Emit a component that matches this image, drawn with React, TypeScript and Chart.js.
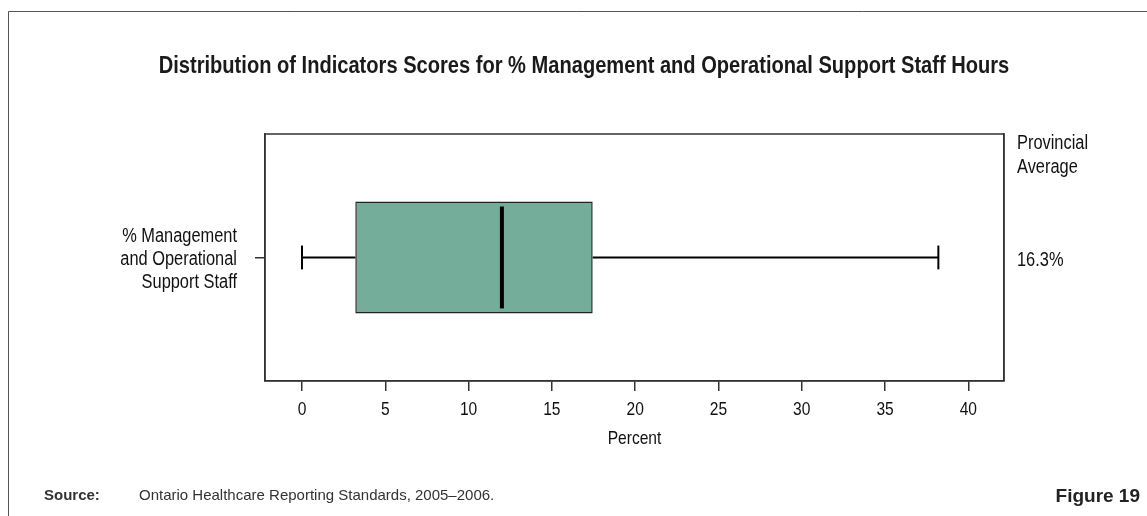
import React, { useEffect, useRef } from "react";
import { Chart, registerables } from "chart.js";

Chart.register(...registerables);

// ---------------- data ----------------
const categoryLabels = [["% Management", "and Operational", "Support Staff"]];
const whiskerLow = [0];
const quartile1 = [3.2];
const medianValues = [12.0];
const quartile3 = [17.45];
const whiskerHigh = [38.2];
const provincialAverage = ["16.3%"];
const averageHeader = ["Provincial", "Average"];
const xTickValues = [0, 5, 10, 15, 20, 25, 30, 35, 40];
const xAxisTitle = "Percent";
const chartTitle =
  "Distribution of Indicators Scores for % Management and Operational Support Staff Hours";
const sourceLabel = "Source:";
const sourceText = "Ontario Healthcare Reporting Standards, 2005\u20132006.";
const figureLabel = "Figure 19";

// ---------------- styles ----------------
const NARROW = "'Liberation Sans Narrow', 'Liberation Sans', Arial, sans-serif";
const SANS = "'Liberation Sans', Arial, sans-serif";
const NARROW_SCALE = 0.82; // horizontal compression for condensed text
const BOX_FILL = "#74AD9A";
const INK = "#111111";
const BOX_FRACTION = 0.454; // box height as share of category band
const CAP_HALF = 0.053; // whisker cap half-height in band units

// draw "Narrow" text horizontally condensed (no narrow face installed)
function installNarrowText(ctx: any) {
  const origFill = ctx.fillText.bind(ctx);
  const origMeasure = ctx.measureText.bind(ctx);
  const isNarrow = () => String(ctx.font).indexOf("Narrow") !== -1;
  ctx.fillText = (text: string, x: number, y: number, maxWidth?: number) => {
    if (!isNarrow()) {
      if (maxWidth === undefined) origFill(text, x, y);
      else origFill(text, x, y, maxWidth);
      return;
    }
    ctx.save();
    ctx.translate(x, y);
    ctx.scale(NARROW_SCALE, 1);
    if (maxWidth === undefined) origFill(text, 0, 0);
    else origFill(text, 0, 0, maxWidth / NARROW_SCALE);
    ctx.restore();
  };
  ctx.measureText = (text: string) => {
    const m = origMeasure(text);
    if (!isNarrow()) return m;
    return {
      width: m.width * NARROW_SCALE,
      actualBoundingBoxAscent: m.actualBoundingBoxAscent,
      actualBoundingBoxDescent: m.actualBoundingBoxDescent,
      actualBoundingBoxLeft: m.actualBoundingBoxLeft * NARROW_SCALE,
      actualBoundingBoxRight: m.actualBoundingBoxRight * NARROW_SCALE,
      fontBoundingBoxAscent: m.fontBoundingBoxAscent,
      fontBoundingBoxDescent: m.fontBoundingBoxDescent,
    };
  };
}

const extrasPlugin = {
  id: "extras",
  beforeDraw(chart: any) {
    const { ctx } = chart;
    ctx.save();
    ctx.fillStyle = "#ffffff";
    ctx.fillRect(0, 0, chart.width, chart.height);
    // outer frame (top + left)
    ctx.strokeStyle = "#555555";
    ctx.lineWidth = 1;
    ctx.beginPath();
    ctx.moveTo(8.5, chart.height);
    ctx.lineTo(8.5, 11.5);
    ctx.lineTo(chart.width, 11.5);
    ctx.stroke();
    ctx.restore();
  },
  afterDraw(chart: any) {
    const { ctx, chartArea } = chart;
    ctx.save();
    // plot frame
    ctx.strokeStyle = "#333333";
    ctx.lineWidth = 1.5;
    ctx.strokeRect(
      chartArea.left,
      chartArea.top,
      chartArea.right - chartArea.left,
      chartArea.bottom - chartArea.top
    );
    // provincial average header
    ctx.fillStyle = INK;
    ctx.font = `20px ${NARROW}`;
    ctx.textAlign = "left";
    ctx.textBaseline = "alphabetic";
    averageHeader.forEach((t, i) => {
      ctx.fillText(t, chartArea.right + 13, chartArea.top + 15 + i * 24);
    });
    // source line
    ctx.fillStyle = "#333333";
    ctx.font = `bold 15px ${SANS}`;
    ctx.fillText(sourceLabel, 44, 500);
    ctx.font = `15px ${SANS}`;
    ctx.fillText(sourceText, 139, 500);
    // figure label
    ctx.font = `bold 19px ${SANS}`;
    ctx.textAlign = "right";
    ctx.fillStyle = "#222222";
    ctx.fillText(figureLabel, 1140, 502);
    ctx.restore();
  },
};

export default function App() {
  const canvasRef = useRef<HTMLCanvasElement | null>(null);

  useEffect(() => {
    document.body.style.margin = "0";
    const canvas = canvasRef.current;
    if (!canvas) return;
    const ctx2d = canvas.getContext("2d");
    if (ctx2d) installNarrowText(ctx2d);

    const lineStyle = {
      type: "line" as const,
      xAxisID: "x",
      yAxisID: "yLin",
      borderColor: "#000000",
      borderWidth: 2,
      pointRadius: 0,
      fill: false,
      order: 1,
    };

    const chart = new Chart(canvas, {
      type: "bar",
      data: {
        labels: categoryLabels as any,
        datasets: [
          {
            type: "bar",
            label: "IQR",
            data: quartile1.map((q, i) => [q, quartile3[i]]) as any,
            backgroundColor: BOX_FILL,
            borderColor: "#222222",
            borderWidth: 1.5,
            borderSkipped: false,
            grouped: false,
            categoryPercentage: 1,
            barPercentage: BOX_FRACTION,
            xAxisID: "x",
            yAxisID: "y",
            order: 2,
          },
          {
            ...lineStyle,
            label: "lower whisker",
            data: [
              { x: whiskerLow[0], y: 0 },
              { x: quartile1[0], y: 0 },
            ],
          },
          {
            ...lineStyle,
            label: "upper whisker",
            data: [
              { x: quartile3[0], y: 0 },
              { x: whiskerHigh[0], y: 0 },
            ],
          },
          {
            ...lineStyle,
            label: "lower cap",
            data: [
              { x: whiskerLow[0], y: -CAP_HALF },
              { x: whiskerLow[0], y: CAP_HALF },
            ],
          },
          {
            ...lineStyle,
            label: "upper cap",
            data: [
              { x: whiskerHigh[0], y: -CAP_HALF },
              { x: whiskerHigh[0], y: CAP_HALF },
            ],
          },
          {
            ...lineStyle,
            label: "median",
            borderWidth: 4,
            order: 0,
            data: [
              { x: medianValues[0], y: -BOX_FRACTION / 2 },
              { x: medianValues[0], y: BOX_FRACTION / 2 },
            ],
          },
        ] as any,
      },
      options: {
        indexAxis: "y",
        responsive: false,
        animation: false,
        devicePixelRatio: 1,
        layout: { padding: { left: 21, right: 0, top: 0, bottom: 61.5 } },
        plugins: {
          legend: { display: false },
          tooltip: { enabled: false },
          title: {
            display: true,
            text: chartTitle,
            color: "#1a1a1a",
            font: { family: NARROW, size: 24.5, weight: "bold", lineHeight: 1.2 },
            padding: { top: 52, bottom: 52.6 },
          },
        },
        scales: {
          x: {
            type: "linear",
            position: "bottom",
            min: -2.22,
            max: 42.14,
            afterBuildTicks: (scale: any) => {
              scale.ticks = xTickValues.map((v) => ({ value: v }));
            },
            grid: {
              display: true,
              drawOnChartArea: false,
              drawTicks: true,
              tickLength: 10,
              color: "#333333",
              lineWidth: 1.5,
            },
            border: { display: true, color: "#333333", width: 1.5 },
            ticks: {
              color: INK,
              padding: 7,
              font: { family: NARROW, size: 19 },
            },
            title: {
              display: true,
              text: xAxisTitle,
              color: INK,
              font: { family: NARROW, size: 19 },
              padding: { top: 0, bottom: 4 },
            },
          },
          y: {
            type: "category",
            position: "left",
            offset: true,
            afterFit: (scale: any) => {
              scale.width = 244;
            },
            grid: {
              display: true,
              offset: false,
              drawOnChartArea: false,
              drawTicks: true,
              tickLength: 10,
              color: "#333333",
              lineWidth: 1.5,
            },
            border: { display: true, color: "#333333", width: 1.5 },
            ticks: {
              color: INK,
              padding: 18,
              labelOffset: 2,
              font: { family: NARROW, size: 20, lineHeight: 1.15 },
            },
          },
          yRight: {
            type: "category",
            position: "right",
            labels: provincialAverage,
            offset: true,
            afterFit: (scale: any) => {
              scale.width = 143;
            },
            grid: { display: false, drawOnChartArea: false, drawTicks: false },
            border: { display: true, color: "#333333", width: 1.5 },
            ticks: {
              color: INK,
              padding: 13,
              labelOffset: 3,
              font: { family: NARROW, size: 20 },
            },
          },
          yLin: {
            type: "linear",
            display: false,
            min: -0.5,
            max: 0.5,
          },
        },
      } as any,
      plugins: [extrasPlugin],
    });

    return () => {
      chart.destroy();
    };
  }, []);

  return (
    <div style={{ width: 1147, height: 516, position: "relative" }}>
      <canvas ref={canvasRef} width={1147} height={516} style={{ display: "block" }} />
    </div>
  );
}
